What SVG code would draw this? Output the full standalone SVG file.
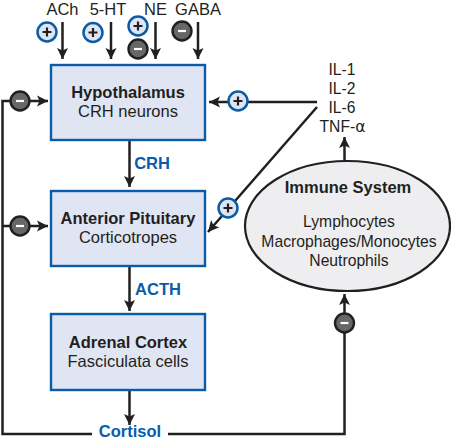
<svg xmlns="http://www.w3.org/2000/svg" width="451" height="440" viewBox="0 0 451 440">
<style>
text{font-family:"Liberation Sans",Arial,sans-serif;fill:#231f20;text-anchor:middle;font-size:16.500px}
.s{font-size:15.700px}
.b{font-weight:bold}
.k{font-weight:bold;fill:#0a5ca8}
.box{fill:#e0e5f3;stroke:#0a5ca8;stroke-width:2.400}
.c{fill:none;stroke:#231f20;stroke-width:2.500}
.pos{fill:#e0e5f3;stroke:#0a5ca8;stroke-width:2.500}
.neg{fill:#666769;stroke:#231f20;stroke-width:2.400}
.pm{fill:none;stroke:#231f20;stroke-width:2.200}
.nm{fill:none;stroke:#fff;stroke-width:2.200}
</style>
<defs>
<marker id="a" markerUnits="userSpaceOnUse" markerWidth="12" markerHeight="12" refX="11" refY="6" orient="auto">
<path d="M0,0.5 L11,6 L0,11.500 L2.500,6 Z" fill="#231f20"/>
</marker>
<g id="plus"><circle r="9.500" class="pos"/><path d="M-4.500,0H4.500M0,-4.500V4.500" class="pm"/></g>
<g id="minus"><circle r="9.500" class="neg"/><path d="M-4,0H4" class="nm"/></g>
</defs>
<g id="connectors">
<path class="c" marker-end="url(#a)" d="M62.500,22V59"/>
<path class="c" marker-end="url(#a)" d="M111,22V59"/>
<path class="c" marker-end="url(#a)" d="M155.500,22V59"/>
<path class="c" marker-end="url(#a)" d="M198,22V59"/>
<path class="c" marker-end="url(#a)" d="M92,434H2.500V101H48"/>
<path class="c" marker-end="url(#a)" d="M2.500,226H48"/>
<path class="c" marker-end="url(#a)" d="M129.500,140V187"/>
<path class="c" marker-end="url(#a)" d="M129.500,266V311"/>
<path class="c" marker-end="url(#a)" d="M129.500,390V425"/>
<path class="c" marker-end="url(#a)" d="M168,434H344.500V294"/>
<path class="c" marker-end="url(#a)" d="M317,102H209"/>
<path class="c" marker-end="url(#a)" d="M317,107L208,232"/>
<path class="c" marker-end="url(#a)" d="M344.500,161V137"/>
</g>
<g id="hypothalamus"><rect class="box" x="51" y="65" width="154" height="75"/>
<text class="b" x="128" y="97.500">Hypothalamus</text><text x="128" y="117">CRH neurons</text></g>
<g id="anterior-pituitary"><rect class="box" x="51" y="191" width="154" height="75"/>
<text class="b" x="128" y="223.500">Anterior Pituitary</text><text x="128" y="243">Corticotropes</text></g>
<g id="adrenal-cortex"><rect class="box" x="51" y="314" width="154" height="76"/>
<text class="b" x="128" y="348">Adrenal Cortex</text><text x="128" y="367">Fasciculata cells</text></g>
<g id="immune-system"><ellipse cx="347.500" cy="226" rx="102.500" ry="65" fill="#eeeef0" stroke="#231f20" stroke-width="2.200"/>
<text class="b" x="348" y="193">Immune System</text>
<text class="s" x="349" y="227">Lymphocytes</text><text class="s" x="349" y="247">Macrophages/Monocytes</text><text class="s" x="349" y="266">Neutrophils</text></g>
<g id="cytokines"><text class="s" x="342" y="75">IL-1</text><text class="s" x="342" y="94">IL-2</text><text class="s" x="342" y="113">IL-6</text>
<text class="s" x="342.500" y="132">TNF-<tspan font-family="'DejaVu Sans',sans-serif">α</tspan></text></g>
<g id="inputs"><text x="62.500" y="15">ACh</text><text x="108" y="15">5-HT</text><text x="155.500" y="15">NE</text><text x="198" y="15">GABA</text></g>
<g id="labels"><text class="k" x="152" y="169">CRH</text><text class="k" x="158" y="295">ACTH</text><text class="k" x="130" y="436.500">Cortisol</text></g>
<g id="signs">
<use href="#plus" x="47" y="32"/><use href="#plus" x="93" y="32.500"/><use href="#plus" x="138" y="26"/><use href="#minus" x="138" y="49"/><use href="#minus" x="182" y="31"/>
<use href="#minus" x="20" y="101"/><use href="#minus" x="20" y="226"/>
<use href="#plus" x="238" y="101"/><use href="#plus" x="228" y="208"/><use href="#minus" x="344.500" y="323"/>
</g>
</svg>
